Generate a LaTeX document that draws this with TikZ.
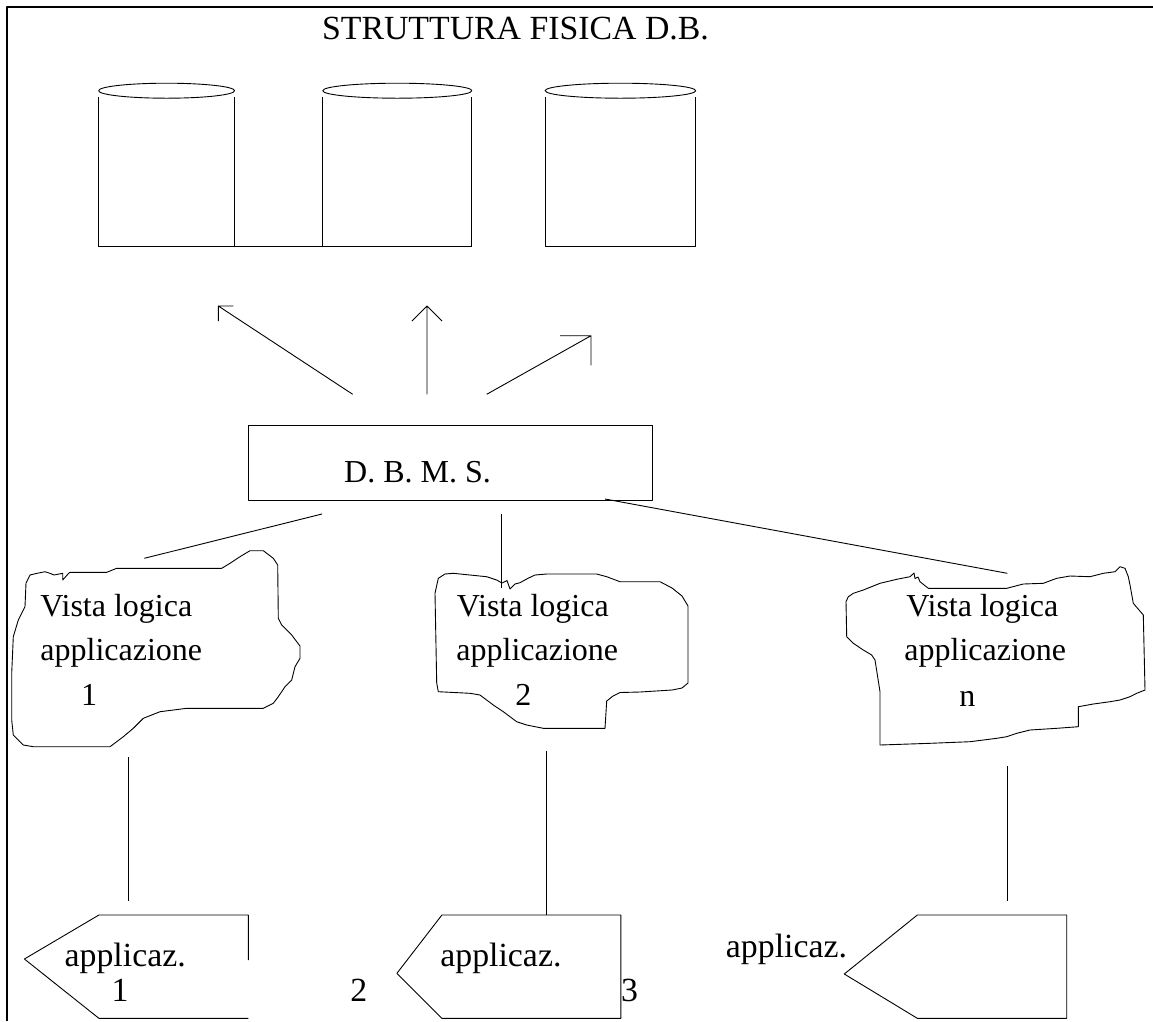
\documentclass[tikz,border=0pt]{standalone}
\usepackage{fontspec}
\setmainfont{Liberation Serif}
\begin{document}
\begin{tikzpicture}[x=1pt,y=-1pt,
  line width=0.9pt, line join=round,
  lbl/.style={inner sep=0pt, font=\fontsize{32}{38}\selectfont},
  biglbl/.style={inner sep=0pt, font=\fontsize{33.8}{40}\selectfont},
  frame/.style={line width=2.4pt},
  box/.style={draw, line width=0.9pt}
]
\useasboundingbox (0,0) rectangle (1153,1021);

% page frame (top and left edges)
\draw[frame] (7,1021) -- (7,7) -- (1153,7);

% title
\node[biglbl, anchor=base] (title) at (515.5,39) {STRUTTURA FISICA D.B.};

% disk cylinders
\draw (166.6,90.7) ellipse [x radius=68pt, y radius=7.5pt];
\draw (98.7,97) -- (98.7,246.7) (234.6,97) -- (234.6,246.7);
\draw (397.3,90.7) ellipse [x radius=74.6pt, y radius=7.5pt];
\draw (322.6,97) -- (322.6,246.7) (471.9,97) -- (471.9,246.7);
\draw (98.7,246.7) -- (471.9,246.7);
\draw (620.4,90.7) ellipse [x radius=75.3pt, y radius=7.5pt];
\draw (545,97) -- (545,246.7) -- (695.7,246.7) -- (695.7,97);

% DBMS box
\node[box, minimum width=404pt, minimum height=75pt, inner sep=0pt] (dbms) at (450,462.5) {};
\node[lbl, anchor=base] (dbmslbl) at (417.5,482.7) {D. B. M. S.};

% arrows towards the physical structure
\coordinate (a1s) at (352.7,394.3); \coordinate (a1t) at (218.3,306);
\coordinate (a2s) at (427,394.3);   \coordinate (a2t) at (427,306);
\coordinate (a3s) at (486.7,394.3); \coordinate (a3t) at (591,335.7);
\draw (a1s) -- (a1t) -- ++(15,0) (a1t) -- ++(0,15);
\draw (a2s) -- (a2t) -- ++(-15,15) (a2t) -- ++(15,15);
\draw (a3s) -- (a3t) -- ++(-31,0) (a3t) -- ++(0,29.6);

% logical views
\draw (26,583) -- (30,575) -- (37,573.3) -- (45,571.7) -- (50,573.3) -- (54,575)
  -- (62.7,573.3) -- (62.7,580) -- (68.5,573.5) -- (70,572.3) -- (106.7,572.3)
  -- (110,571) -- (116.7,568.3) -- (221.7,568.3) -- (230,563.3) -- (240,556.7)
  -- (250,550.7) -- (263.3,550.7) -- (273.3,558.3) -- (277.7,565) -- (278.3,618.3)
  -- (281.7,625) -- (291.7,635) -- (300,646) -- (300,658.3) -- (295,666.7)
  -- (291.7,680) -- (285,686.7) -- (278.3,696.7) -- (273.3,703.3) -- (263.3,708.3)
  -- (186.7,708.3) -- (160,711.7) -- (143.3,718.3) -- (133.3,728.3) -- (123.3,736.7)
  -- (110,746.7) -- (33.3,746.7) -- (23.3,745) -- (13.3,735) -- (11.7,720)
  -- (11.7,673.3) -- (13.3,636.7) -- (18.3,620) -- (25,606.7) -- cycle;
\draw (438.3,578.3) -- (445,574) -- (453.3,573.3) -- (470,575) -- (486.7,576.7)
  -- (496.7,580) -- (502,583) -- (507,580.5) -- (510,589) -- (515,584) -- (520,582.7)
  -- (528,578.3) -- (535,575) -- (546.7,574) -- (596.7,574) -- (606.7,576.7)
  -- (620,581.7) -- (660,581.7) -- (672,588) -- (682,596) -- (688,606) -- (688,683)
  -- (682,688) -- (672,690) -- (640,692) -- (620,692.5) -- (613,696) -- (606.7,701)
  -- (605,728.3) -- (543.3,728.3) -- (526.7,725) -- (516.7,721.7) -- (510,716.7)
  -- (503.3,711.7) -- (493.3,705) -- (480,695) -- (470,693.3) -- (438.3,691.7)
  -- (436.7,683) -- (435,593.3) -- cycle;
\draw (846,601.7) -- (848.3,596.7) -- (853.3,593.3) -- (863.3,590) -- (880,583.3)
  -- (896.7,579.3) -- (910,576.7) -- (914,573) -- (915,578.5) -- (918,577) -- (920,581.7)
  -- (928.3,588.3) -- (1006.7,588.3) -- (1023.3,584) -- (1043.3,583.3) -- (1056.7,578.3)
  -- (1070,576) -- (1090,576.7) -- (1103.3,573.3) -- (1115,571.7) -- (1120,566.7)
  -- (1125,568.3) -- (1128.3,576.7) -- (1130,585) -- (1133.3,603.3) -- (1143.3,615)
  -- (1145,690) -- (1136.7,693.3) -- (1130,696.7) -- (1120,700) -- (1110,701.7)
  -- (1093.3,704) -- (1078.3,706.7) -- (1078.3,726.7) -- (1056.7,728.3) -- (1030,730)
  -- (1016.7,733.3) -- (1006.7,736.7) -- (996.7,738.3) -- (970,741.7) -- (930,743.3)
  -- (880,745) -- (880,691.7) -- (875,660) -- (871.7,655) -- (863.3,650)
  -- (853.3,643.3) -- (846.7,636.7) -- cycle;

\node[lbl, anchor=base west] (v1a) at (40,616) {Vista logica};
\node[lbl, anchor=base west] (v1b) at (40,660.5) {applicazione};
\node[lbl, anchor=base] (v1c) at (89.2,705) {1};
\node[lbl, anchor=base west] (v2a) at (456.5,616.5) {Vista logica};
\node[lbl, anchor=base west] (v2b) at (456,660.5) {applicazione};
\node[lbl, anchor=base] (v2c) at (523.3,705) {2};
\node[lbl, anchor=base west] (vna) at (906,616.5) {Vista logica};
\node[lbl, anchor=base west] (vnb) at (904,660.5) {applicazione};
\node[lbl, anchor=base] (vnc) at (967.3,706) {n};

% DBMS to logical views
\coordinate (d1) at (322,514);   \coordinate (l1) at (144.3,558.3);
\coordinate (d2) at (501.7,514); \coordinate (l2) at (501.7,588);
\coordinate (d3) at (605,499);   \coordinate (l3) at (1007.3,573.3);
\draw (d1) -- (l1);
\draw (d2) -- (l2);
\draw (d3) -- (l3);

% logical views to applications
\coordinate (u1) at (128.4,757);  \coordinate (p1) at (128.4,900.7);
\coordinate (u2) at (546,750.7);  \coordinate (p2) at (546,915);
\coordinate (u3) at (1007.7,766); \coordinate (p3) at (1007.7,900.7);
\draw (u1) -- (p1);
\draw (u2) -- (p2);
\draw (u3) -- (p3);

% applications
\draw (248.3,960) -- (248.3,915) -- (98.9,915) -- (24.4,959) -- (98.9,1018.3) -- (248.3,1018.3);
\draw (620.8,915) -- (441.9,915) -- (396.9,973.3) -- (441.9,1018.3) -- (620.8,1018.3) -- cycle;
\draw (1066.7,915) -- (917.3,915) -- (844.3,974) -- (917.3,1018.3) -- (1066.7,1018.3) -- cycle;

\node[biglbl, anchor=base] (ap1) at (125.2,966.7) {applicaz.};
\node[biglbl, anchor=base] (ap1n) at (120,1001.7) {1};
\node[biglbl, anchor=base] (ap2n) at (358.8,1001.7) {2};
\node[biglbl, anchor=base] (ap2) at (500.9,966.7) {applicaz.};
\node[biglbl, anchor=base] (ap3n) at (629.6,1001.7) {3};
\node[biglbl, anchor=base] (ap3) at (786.5,957) {applicaz.};
\end{tikzpicture}
\end{document}
